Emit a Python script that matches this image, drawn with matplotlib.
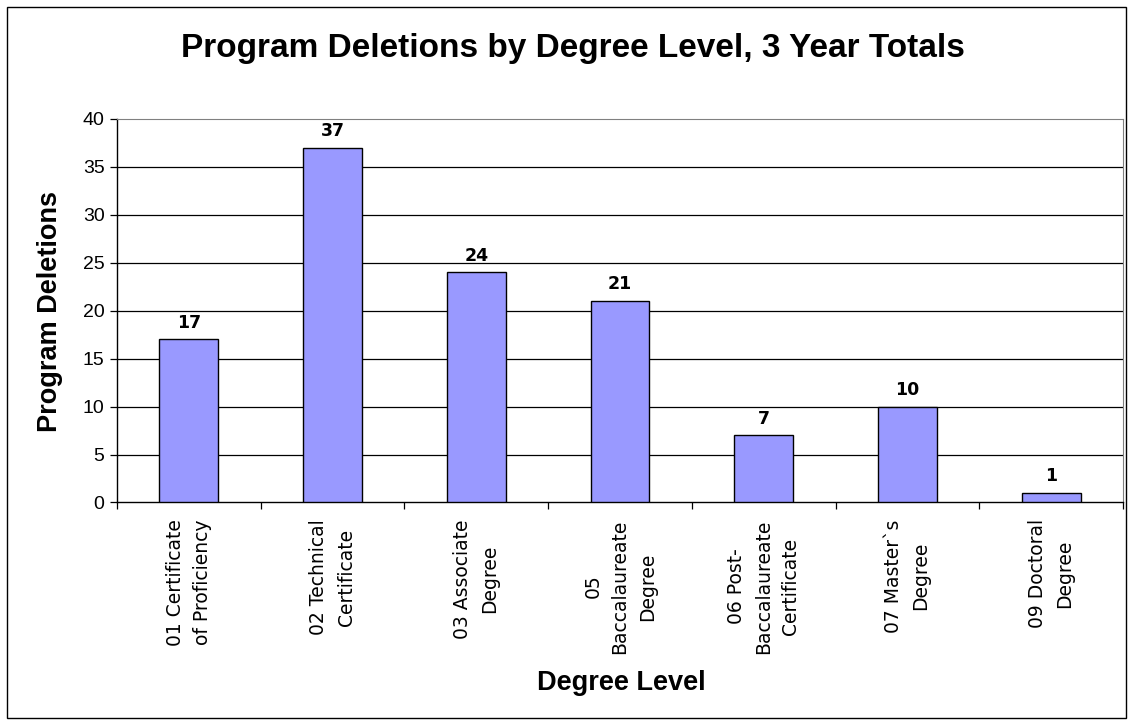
import matplotlib.pyplot as plt
import matplotlib.patches as patches
import numpy as np

# Data
categories = ['01 Certificate\nof Proficiency', '02 Technical\nCertificate', '03 Associate\nDegree',
              '05\nBaccalaureate\nDegree', '06 Post-\nBaccalaureate\nCertificate', '07 Master`s\nDegree',
              '09 Doctoral\nDegree']
deletions = [17, 37, 24, 21, 7, 10, 1]
y_ticks = [0, 5, 10, 15, 20, 25, 30, 35, 40]

fig = plt.figure(figsize=(11.33, 7.25), dpi=100)
ax = fig.add_axes([0.1033, 0.3069, 0.8879, 0.529])

x = np.arange(len(categories))
ax.bar(x, deletions, width=0.41, color='#9999FF', edgecolor='black', linewidth=1, zorder=3)

# value labels
for xi, v in zip(x, deletions):
    ax.text(xi, v + 0.8, str(v), ha='center', va='bottom', fontsize=12.5,
            fontweight='bold', family='DejaVu Sans', zorder=4)

# gridlines
for yv in y_ticks[1:-1]:
    ax.axhline(yv, color='black', lw=0.9, zorder=1)

ax.set_xlim(-0.5, len(categories) - 0.5)
ax.set_ylim(0, 40)
ax.set_yticks(y_ticks)
ax.set_yticklabels([str(t) for t in y_ticks], fontsize=14, family='Liberation Sans')

# category boundaries as ticks, labels at centres
ax.set_xticks(np.arange(-0.5, len(categories), 1.0))
ax.set_xticklabels([])
ax.set_xticks(x, minor=True)
ax.set_xticklabels(categories, minor=True, rotation=90, fontsize=13.5, family='DejaVu Sans',
                   multialignment='center', linespacing=1.55)
ax.tick_params(axis='x', which='minor', length=0, pad=12)
ax.tick_params(axis='x', which='major', length=5, direction='out', width=0.9)
ax.tick_params(axis='y', length=5, direction='out', width=0.9, pad=4)

ax.spines['top'].set_color('#808080')
ax.spines['right'].set_color('#808080')
ax.spines['left'].set_linewidth(1)
ax.spines['bottom'].set_linewidth(1)

fig.text(0.044, 0.57, 'Program Deletions', rotation=90, ha='center', va='center',
         fontsize=19.5, fontweight='bold', family='Liberation Sans')
fig.text(0.548, 0.058, 'Degree Level', ha='center', va='center',
         fontsize=19.5, fontweight='bold', family='Liberation Sans')
fig.text(0.506, 0.933, 'Program Deletions by Degree Level, 3 Year Totals', ha='center', va='center',
         fontsize=24, fontweight='bold', family='Liberation Sans')

# figure border
fig.patches.append(patches.Rectangle((0.006, 0.01), 0.988, 0.98, transform=fig.transFigure,
                                     fill=False, edgecolor='black', lw=1))

plt.savefig('out.png', dpi=100)
